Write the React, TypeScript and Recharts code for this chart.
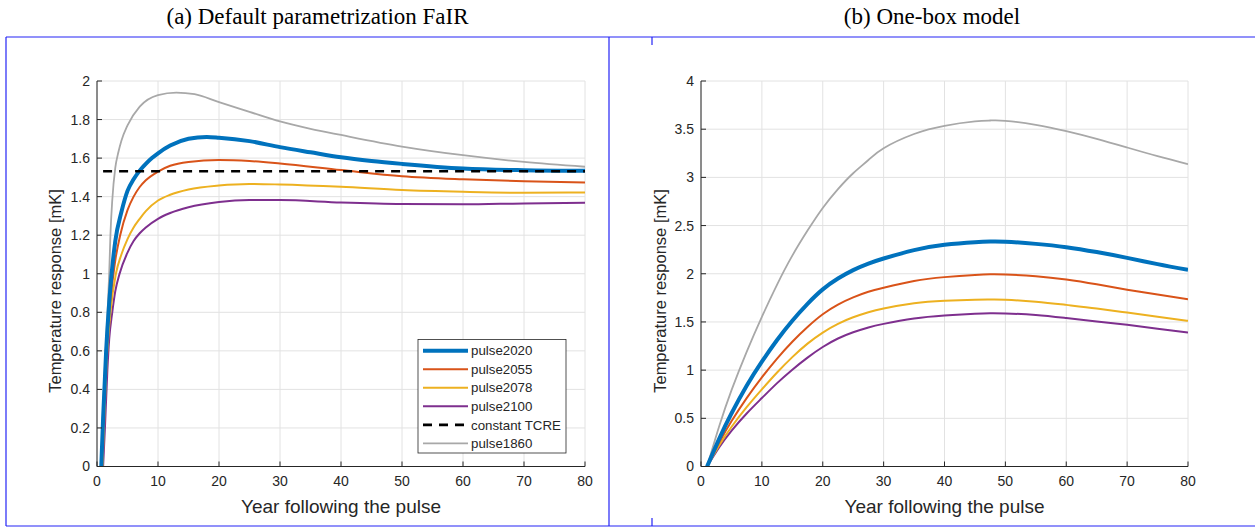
import React from 'react';
import { LineChart, Line, XAxis, YAxis, CartesianGrid } from 'recharts';

// ---------- tick labels ----------
const xTicks = [0, 10, 20, 30, 40, 50, 60, 70, 80];
const leftYTicks = [0, 0.2, 0.4, 0.6, 0.8, 1, 1.2, 1.4, 1.6, 1.8, 2];
const rightYTicks = [0, 0.5, 1, 1.5, 2, 2.5, 3, 3.5, 4];

// ---------- panel (a): default FaIR ----------
const fair2020Years = [0.7, 1, 1.5, 2, 2.4, 3, 4, 5, 6, 7, 8, 9, 10, 12, 15, 18, 20, 25, 30, 35, 40, 45, 50, 60, 70, 80];
const fair2020Values = [0, 0.25, 0.6, 0.85, 1.0, 1.17, 1.32, 1.43, 1.49, 1.535, 1.57, 1.6, 1.625, 1.665, 1.7, 1.71, 1.706, 1.688, 1.657, 1.63, 1.604, 1.585, 1.57, 1.546, 1.537, 1.534];

const fair2055Years = [0.8, 1, 1.5, 2, 2.7, 3, 3.8, 5, 6, 7, 8, 10, 12, 15, 20, 25, 30, 40, 50, 60, 70, 80];
const fair2055Values = [0, 0.2, 0.55, 0.8, 1.0, 1.07, 1.2, 1.33, 1.4, 1.45, 1.485, 1.53, 1.56, 1.58, 1.59, 1.585, 1.572, 1.538, 1.506, 1.49, 1.48, 1.474];

const fair2078Years = [0.9, 1.2, 1.6, 2.2, 3.1, 4, 5, 6, 7, 8, 10, 12, 15, 20, 25, 30, 40, 50, 60, 70, 80];
const fair2078Values = [0, 0.25, 0.55, 0.8, 1.0, 1.1, 1.18, 1.24, 1.285, 1.325, 1.38, 1.41, 1.437, 1.458, 1.466, 1.463, 1.451, 1.434, 1.425, 1.42, 1.422];

const fair2100Years = [1.0, 1.3, 1.7, 2, 2.5, 3, 3.7, 5, 6, 7, 8, 10, 12, 15, 20, 25, 30, 40, 50, 60, 70, 80];
const fair2100Values = [0, 0.2, 0.5, 0.66, 0.8, 0.91, 1.0, 1.11, 1.17, 1.21, 1.24, 1.285, 1.315, 1.345, 1.372, 1.382, 1.382, 1.37, 1.362, 1.36, 1.365, 1.368];

const fairTcreYears = [1, 80];
const fairTcreValues = [1.532, 1.532];

const fair1860Years = [0.7, 1, 1.5, 1.8, 2, 2.2, 2.5, 3, 3.5, 4, 5, 7, 10, 13, 16, 20, 25, 30, 35, 40, 50, 60, 70, 80];
const fair1860Values = [0, 0.3, 0.65, 0.85, 1.0, 1.2, 1.38, 1.55, 1.63, 1.69, 1.77, 1.867, 1.927, 1.94, 1.932, 1.89, 1.84, 1.79, 1.752, 1.72, 1.66, 1.615, 1.58, 1.555];

// ---------- panel (b): one-box model ----------
const boxYears = [1, 3, 5, 7.5, 10, 12.5, 15, 17.5, 20, 22.5, 25, 27.5, 30, 35, 40, 45, 47.5, 50, 55, 60, 65, 70, 75, 80];
const box2020Values = [0, 0.29, 0.55, 0.838, 1.088, 1.313, 1.513, 1.688, 1.838, 1.95, 2.038, 2.105, 2.158, 2.245, 2.3, 2.327, 2.334, 2.332, 2.31, 2.276, 2.225, 2.165, 2.1, 2.04];
const box2055Values = [0, 0.25, 0.47, 0.71, 0.925, 1.12, 1.295, 1.448, 1.58, 1.68, 1.755, 1.813, 1.855, 1.925, 1.965, 1.988, 1.995, 1.993, 1.975, 1.94, 1.89, 1.835, 1.785, 1.736];
const box2078Values = [0, 0.22, 0.41, 0.615, 0.8, 0.975, 1.135, 1.275, 1.39, 1.48, 1.548, 1.6, 1.64, 1.695, 1.72, 1.73, 1.732, 1.73, 1.71, 1.677, 1.64, 1.597, 1.555, 1.511];
const box2100Values = [0, 0.2, 0.37, 0.55, 0.71, 0.865, 1.005, 1.13, 1.24, 1.328, 1.393, 1.443, 1.48, 1.535, 1.566, 1.585, 1.59, 1.588, 1.572, 1.54, 1.505, 1.47, 1.43, 1.39];
const box1860Values = [0, 0.42, 0.79, 1.19, 1.553, 1.888, 2.188, 2.448, 2.683, 2.878, 3.043, 3.18, 3.303, 3.45, 3.535, 3.58, 3.59, 3.587, 3.545, 3.48, 3.4, 3.31, 3.22, 3.137];

const legendNames = ['pulse2020', 'pulse2055', 'pulse2078', 'pulse2100', 'constant TCRE', 'pulse1860'];

// ---------- styles ----------
const AX = '#262626';
const SANS = '"Liberation Sans", Arial, Helvetica, sans-serif';
const SERIF = '"Liberation Serif", "Times New Roman", Times, serif';
const BORDER = '#2424f5';

type Style = { color: string; width: number; dash?: string };
const styles: Record<string, Style> = {
  pulse2020: { color: '#0072BD', width: 4 },
  pulse2055: { color: '#D95319', width: 2 },
  pulse2078: { color: '#EDB120', width: 2 },
  pulse2100: { color: '#7E2F8E', width: 2 },
  'constant TCRE': { color: '#000000', width: 2.6, dash: '9 7' },
  pulse1860: { color: '#A8A8A8', width: 1.8 },
};

const zip = (xs: number[], ys: number[]) => xs.map((x, i) => ({ x, y: ys[i] }));

type Series = { name: string; data: { x: number; y: number }[] };

const leftSeries: Series[] = [
  { name: 'pulse1860', data: zip(fair1860Years, fair1860Values) },
  { name: 'pulse2100', data: zip(fair2100Years, fair2100Values) },
  { name: 'pulse2078', data: zip(fair2078Years, fair2078Values) },
  { name: 'pulse2055', data: zip(fair2055Years, fair2055Values) },
  { name: 'pulse2020', data: zip(fair2020Years, fair2020Values) },
  { name: 'constant TCRE', data: zip(fairTcreYears, fairTcreValues) },
];

const rightSeries: Series[] = [
  { name: 'pulse1860', data: zip(boxYears, box1860Values) },
  { name: 'pulse2100', data: zip(boxYears, box2100Values) },
  { name: 'pulse2078', data: zip(boxYears, box2078Values) },
  { name: 'pulse2055', data: zip(boxYears, box2055Values) },
  { name: 'pulse2020', data: zip(boxYears, box2020Values) },
];

const tickStyle = { fill: AX, fontSize: 14, fontFamily: SANS };

function Panel(props: {
  left: number;
  yAxisWidth: number;
  rightMargin: number;
  yMax: number;
  yTicks: number[];
  series: Series[];
  curve: 'monotone' | 'natural';
}) {
  const { left, yAxisWidth, rightMargin, yMax, yTicks, series, curve } = props;
  return (
    <div style={{ position: 'absolute', left, top: 0 }}>
      <LineChart width={620} height={528} margin={{ top: 81, right: rightMargin, bottom: 31.5, left: 0 }}>
        <CartesianGrid stroke="#e2e2e2" strokeWidth={1} />
        <XAxis
          xAxisId={0}
          dataKey="x"
          type="number"
          domain={[0, 80]}
          ticks={xTicks}
          interval={0}
          allowDataOverflow
          height={30}
          tickSize={-5}
          tickMargin={15}
          stroke={AX}
          tick={tickStyle}
        />
        <XAxis
          xAxisId="top"
          orientation="top"
          dataKey="x"
          type="number"
          domain={[0, 80]}
          ticks={xTicks}
          interval={0}
          allowDataOverflow
          height={0}
          tickSize={-5}
          tick={false}
          stroke={AX}
        />
        <YAxis
          yAxisId={0}
          type="number"
          domain={[0, yMax]}
          ticks={yTicks}
          interval={0}
          allowDataOverflow
          width={yAxisWidth}
          tickSize={-5}
          tickMargin={12}
          stroke={AX}
          tick={tickStyle}
        />
        <YAxis
          yAxisId="right"
          orientation="right"
          type="number"
          domain={[0, yMax]}
          ticks={yTicks}
          interval={0}
          allowDataOverflow
          width={0}
          tickSize={-5}
          tick={false}
          stroke={AX}
        />
        {series.map((s) => (
          <Line
            key={s.name}
            data={s.data}
            dataKey="y"
            type={s.name === 'constant TCRE' ? 'linear' : curve}
            stroke={styles[s.name].color}
            strokeWidth={styles[s.name].width}
            strokeDasharray={styles[s.name].dash}
            dot={false}
            activeDot={false}
            isAnimationActive={false}
          />
        ))}
      </LineChart>
    </div>
  );
}

export default function App() {
  return (
    <div style={{ position: 'relative', width: 1255, height: 528, background: '#fff', overflow: 'hidden' }}>
      <style>{'body{margin:0;background:#fff}'}</style>
      <Panel left={0} yAxisWidth={97} rightMargin={35} yMax={2} yTicks={leftYTicks} series={leftSeries} curve="monotone" />
      <Panel left={610} yAxisWidth={91} rightMargin={42} yMax={4} yTicks={rightYTicks} series={rightSeries} curve="natural" />
      <svg
        width={1255}
        height={528}
        style={{ position: 'absolute', left: 0, top: 0, pointerEvents: 'none' }}
      >
        {/* titles */}
        <text x={317.5} y={23.5} textAnchor="middle" fontFamily={SERIF} fontSize={23} fill="#000">
          (a) Default parametrization FaIR
        </text>
        <text x={932} y={23.5} textAnchor="middle" fontFamily={SERIF} fontSize={23} fill="#000">
          (b) One-box model
        </text>
        {/* blue frames */}
        <line x1={6} y1={37} x2={1255} y2={37} stroke={BORDER} strokeWidth={1.2} />
        <line x1={6} y1={526} x2={1255} y2={526} stroke={BORDER} strokeWidth={1.2} />
        <line x1={6} y1={37} x2={6} y2={526} stroke={BORDER} strokeWidth={1.2} />
        <line x1={609} y1={37} x2={609} y2={526} stroke={BORDER} strokeWidth={1.2} />
        <line x1={652} y1={37} x2={652} y2={45} stroke={BORDER} strokeWidth={1.2} />
        <line x1={652} y1={518} x2={652} y2={526} stroke={BORDER} strokeWidth={1.2} />
        {/* axis labels */}
        <text x={341} y={512.5} textAnchor="middle" fontFamily={SANS} fontSize={19} fill={AX}>
          Year following the pulse
        </text>
        <text x={944.5} y={512.5} textAnchor="middle" fontFamily={SANS} fontSize={19} fill={AX}>
          Year following the pulse
        </text>
        <text
          x={61}
          y={291}
          transform="rotate(-90 61 291)"
          textAnchor="middle"
          fontFamily={SANS}
          fontSize={16.5}
          fill={AX}
        >
          Temperature response [mK]
        </text>
        <text
          x={666}
          y={291}
          transform="rotate(-90 666 291)"
          textAnchor="middle"
          fontFamily={SANS}
          fontSize={16.5}
          fill={AX}
        >
          Temperature response [mK]
        </text>
        {/* legend */}
        <rect x={418} y={339.5} width={148} height={113.5} fill="#fff" stroke={AX} strokeWidth={0.8} />
        {legendNames.map((n, i) => {
          const cy = 350.7 + i * 18.55;
          const st = styles[n];
          return (
            <g key={n}>
              <line
                x1={423}
                y1={cy}
                x2={468}
                y2={cy}
                stroke={st.color}
                strokeWidth={st.width}
                strokeDasharray={st.dash}
              />
              <text x={471} y={cy + 4.6} fontFamily={SANS} fontSize={13.3} fill={AX}>
                {n}
              </text>
            </g>
          );
        })}
      </svg>
    </div>
  );
}
